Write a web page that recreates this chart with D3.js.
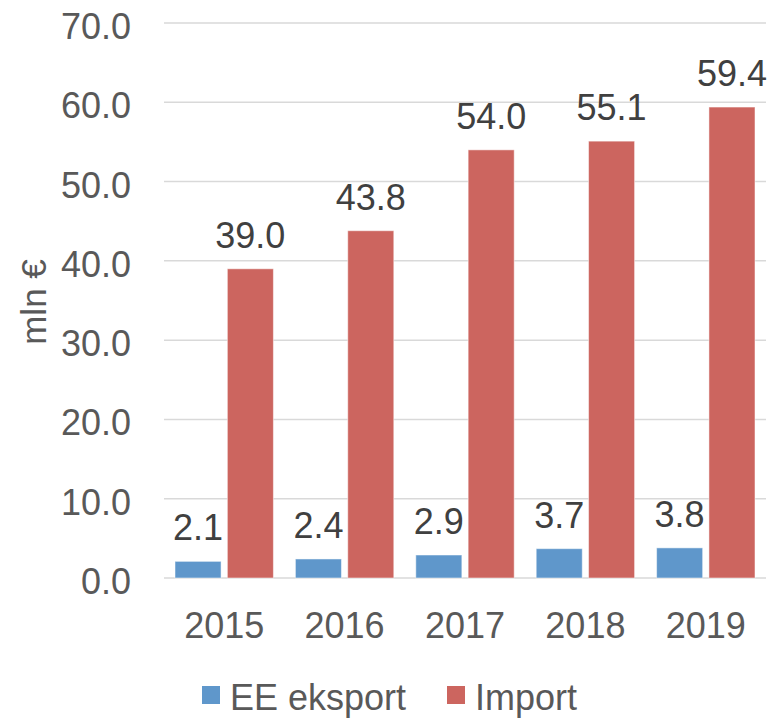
<!DOCTYPE html>
<html>
<head>
<meta charset="utf-8">
<script src="https://cdn.jsdelivr.net/npm/d3@7"></script>
<style>
  body { margin: 0; background: #fff; }
  text { font-family: "Liberation Sans", Arial, sans-serif; }
</style>
</head>
<body>
<div id="chart"></div>
<script>
// data
var years = ["2015", "2016", "2017", "2018", "2019"];
var eksport = [2.1, 2.4, 2.9, 3.7, 3.8];
var importVals = [39.0, 43.8, 54.0, 55.1, 59.4];
var seriesNames = ["EE eksport", "Import"];
var seriesColors = ["#5F97CB", "#CC655F"];
var yTicks = [0, 10, 20, 30, 40, 50, 60, 70];

var width = 773, height = 718;
var plotLeft = 164, plotRight = 766, plotTop = 23, plotBottom = 578;

var svg = d3.select("#chart").append("svg")
    .attr("width", width)
    .attr("height", height);

var x = d3.scaleBand().domain(years).range([plotLeft, plotRight]);
var y = d3.scaleLinear().domain([0, 70]).range([plotBottom, plotTop]);
// bars inside each category
var xs = d3.scaleBand().domain([0, 1]).range([11, x.bandwidth() - 11]).paddingInner(0.12);

// gridlines
svg.append("g").selectAll("line")
    .data(yTicks)
    .enter().append("line")
    .attr("x1", plotLeft).attr("x2", plotRight)
    .attr("y1", d => y(d)).attr("y2", d => y(d))
    .attr("stroke", "#D9D9D9")
    .attr("stroke-width", 1.5);

// y tick labels
svg.append("g").selectAll("text")
    .data(yTicks)
    .enter().append("text")
    .attr("x", 131)
    .attr("y", d => y(d) + 16)
    .attr("text-anchor", "end")
    .attr("font-size", 36)
    .attr("fill", "#595959")
    .text(d => d.toFixed(1));

// axis title
svg.append("text")
    .attr("transform", "translate(46,302) rotate(-90)")
    .attr("text-anchor", "middle")
    .attr("font-size", 35)
    .attr("fill", "#595959")
    .text("mln €");

var series = [eksport, importVals];
series.forEach(function(vals, s) {
    var g = svg.append("g");
    g.selectAll("rect")
        .data(vals)
        .enter().append("rect")
        .attr("x", (d, i) => x(years[i]) + xs(s))
        .attr("y", d => y(d))
        .attr("width", xs.bandwidth())
        .attr("height", d => y(0) - y(d))
        .attr("fill", seriesColors[s])
        .attr("stroke", "#fff")
        .attr("stroke-opacity", 0.5)
        .attr("stroke-width", 1);
    g.selectAll("text")
        .data(vals)
        .enter().append("text")
        .attr("x", (d, i) => x(years[i]) + xs(s) + xs.bandwidth() / 2)
        .attr("y", d => y(d) - 21)
        .attr("text-anchor", "middle")
        .attr("font-size", 36)
        .attr("fill", "#404040")
        .text(d => d.toFixed(1));
});

// x labels
svg.append("g").selectAll("text")
    .data(years)
    .enter().append("text")
    .attr("x", d => x(d) + x.bandwidth() / 2)
    .attr("y", 638)
    .attr("text-anchor", "middle")
    .attr("font-size", 36)
    .attr("fill", "#595959")
    .text(d => d);

// legend
var legendX = [202, 447];
seriesNames.forEach(function(name, s) {
    svg.append("rect")
        .attr("x", legendX[s]).attr("y", 686)
        .attr("width", 18).attr("height", 18)
        .attr("fill", seriesColors[s]);
    svg.append("text")
        .attr("x", legendX[s] + 28)
        .attr("y", 710)
        .attr("font-size", 36)
        .attr("fill", "#595959")
        .text(name);
});
</script>
</body>
</html>
